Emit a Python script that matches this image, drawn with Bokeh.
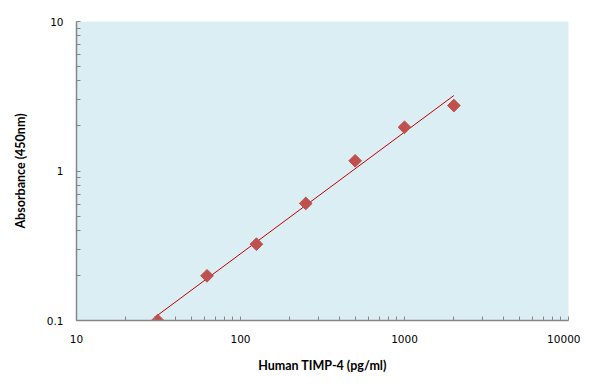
import numpy as np
from bokeh.plotting import figure
from bokeh.models import Range1d, FixedTicker
from bokeh.embed import file_html
from bokeh.resources import INLINE

# Data (standard curve)
concentration = [31.25, 62.5, 125, 250, 500, 1000, 2000]
absorbance = [0.100, 0.199, 0.324, 0.607, 1.17, 1.96, 2.74]

x_ticks = [10, 100, 1000, 10000]
x_tick_labels = ["10", "100", "1000", "10000"]
y_ticks = [0.1, 1, 10]
y_tick_labels = ["0.1", "1", "10"]

x_title = "Human TIMP-4 (pg/ml)"
y_title = "Absorbance (450nm)"

# Power trendline fitted in log-log space
slope, intercept = np.polyfit(np.log10(concentration), np.log10(absorbance), 1)
fit_x = [concentration[0], concentration[-1]]
fit_y = [10 ** (intercept + slope * np.log10(v)) for v in fit_x]

def minor(majors):
    out = []
    for m in majors[:-1]:
        out += [m * k for k in range(2, 10)]
    return out

p = figure(
    x_axis_type="log", y_axis_type="log",
    x_range=Range1d(10, 10000), y_range=Range1d(0.1, 10),
    frame_width=492, frame_height=299,
    min_border_left=76, min_border_right=12, min_border_top=21, min_border_bottom=54,
    output_backend="svg", toolbar_location=None,
    background_fill_color="#DBEEF3", border_fill_color="white",
)
p.outline_line_color = None
p.xgrid.visible = False
p.ygrid.visible = False

p.line(fit_x, fit_y, line_color="#C00000", line_width=1)
p.scatter(concentration, absorbance, marker="square", angle=np.pi / 4, size=9,
          fill_color="#C0504D", line_color="#C0504D")

p.xaxis.ticker = FixedTicker(ticks=x_ticks, minor_ticks=minor(x_ticks))
p.yaxis.ticker = FixedTicker(ticks=y_ticks, minor_ticks=minor(y_ticks))
p.xaxis.major_label_overrides = {t: l for t, l in zip(x_ticks, x_tick_labels)}
p.yaxis.major_label_overrides = {t: l for t, l in zip(y_ticks, y_tick_labels)}

for ax in (p.xaxis[0], p.yaxis[0]):
    ax.axis_line_color = "#868686"
    ax.axis_line_width = 1.5
    ax.major_tick_line_color = "#868686"
    ax.minor_tick_line_color = "#868686"
    ax.major_tick_in = 4
    ax.major_tick_out = 0
    ax.minor_tick_in = 4
    ax.minor_tick_out = 0
    ax.major_label_text_font = "DejaVu Sans"
    ax.major_label_text_font_size = "10.5px"
    ax.major_label_text_color = "black"
    ax.axis_label_text_font = "Lato"
    ax.axis_label_text_font_style = "bold"
    ax.axis_label_text_font_size = "12.5px"
    ax.axis_label_text_color = "black"

p.xaxis.axis_label = x_title
p.yaxis.axis_label = y_title
p.xaxis.major_label_standoff = 14
p.xaxis.axis_label_standoff = 12
p.yaxis.major_label_standoff = 13
p.yaxis.axis_label_standoff = 16

open("out.html", "w").write(file_html(p, INLINE))
